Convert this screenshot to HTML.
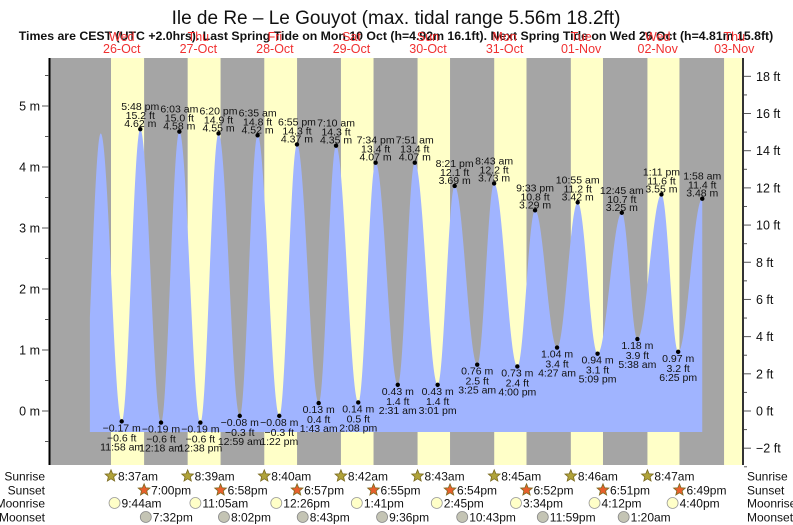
<!DOCTYPE html>
<html><head><meta charset="utf-8"><style>
body{margin:0;background:#fff}
svg{display:block;font-family:"Liberation Sans",sans-serif}
</style></head><body>
<svg id="c" width="793" height="525" viewBox="0 0 793 525">
<text x="396" y="24" text-anchor="middle" font-size="19" fill="#111">Ile de Re – Le Gouyot (max. tidal range 5.56m 18.2ft)</text>
<text x="396" y="29" dy="0" font-size="1" fill="none"></text>
<text x="396" y="40" text-anchor="middle" font-size="12.3" font-weight="bold" fill="#111">Times are CEST (UTC +2.0hrs). Last Spring Tide on Mon 10 Oct (h=4.92m 16.1ft). Next Spring Tide on Wed 26 Oct (h=4.81m 15.8ft)</text>
<g id="bg"></g><g id="tide"></g><g id="axes"></g><g id="labels"></g><g id="astro"></g>
</svg>
<script>
// hours since 26-Oct 00:00
const tideTimes=[-0.4,5.4,11.97,17.8,24.3,30.05,36.63,42.33,48.98,54.58,61.37,66.92,73.72,79.17,86.13,91.57,98.52,103.85,111.02,116.35,123.42,128.72,136,141.55,148.45,154.92,161.15,168.75,173.63,181.18,186.42,193.97];
const tideHeights=[-0.2,4.55,-0.17,4.62,-0.19,4.58,-0.19,4.55,-0.08,4.52,-0.08,4.37,0.13,4.35,0.14,4.07,0.43,4.07,0.43,3.69,0.76,3.73,0.73,3.29,1.04,3.42,0.94,3.25,1.18,3.55,0.97,3.48];
const tideLabelTime=["","","11:58 am","5:48 pm","12:18 am","6:03 am","12:38 pm","6:20 pm","12:59 am","6:35 am","1:22 pm","6:55 pm","1:43 am","7:10 am","2:08 pm","7:34 pm","2:31 am","7:51 am","3:01 pm","8:21 pm","3:25 am","8:43 am","4:00 pm","9:33 pm","4:27 am","10:55 am","5:09 pm","12:45 am","5:38 am","1:11 pm","6:25 pm","1:58 am"];
const tideLabelFt=["","","-0.6","15.2","-0.6","15.0","-0.6","14.9","-0.3","14.8","-0.3","14.3","0.4","14.3","0.5","13.4","1.4","13.4","1.4","12.1","2.5","12.2","2.4","10.8","3.4","11.2","3.1","10.7","3.9","11.6","3.2","11.4"];
const dayNames=["Wed","Thu","Fri","Sat","Sun","Mon","Tue","Wed","Thu"];
const dayDates=["26-Oct","27-Oct","28-Oct","29-Oct","30-Oct","31-Oct","01-Nov","02-Nov","03-Nov"];
const sunriseH=[8.62,8.65,8.67,8.70,8.72,8.75,8.77,8.78,8.80];
const sunsetH=[19.0,18.97,18.95,18.92,18.90,18.87,18.85,18.82];
const sunriseTxt=["8:37am","8:39am","8:40am","8:42am","8:43am","8:45am","8:46am","8:47am"];
const sunsetTxt=["7:00pm","6:58pm","6:57pm","6:55pm","6:54pm","6:52pm","6:51pm","6:49pm"];
const moonriseT=[9.73,35.08,60.43,85.68,110.75,135.57,160.2,184.67];
const moonriseTxt=["9:44am","11:05am","12:26pm","1:41pm","2:45pm","3:34pm","4:12pm","4:40pm"];
const moonsetT=[19.53,44.03,68.72,93.6,118.72,143.98,169.33];
const moonsetTxt=["7:32pm","8:02pm","8:43pm","9:36pm","10:43pm","11:59pm","1:20am"];
const mTicks=[0,1,2,3,4,5];
const ftTicks=[-2,0,2,4,6,8,10,12,14,16,18];

const NS="http://www.w3.org/2000/svg";
const X0=50,X1=743,Y0=58,Y1=465;
const x=t=>83.5+t*3.19;
const y=m=>411-m*61;
const yft=f=>y(f*0.3048);
function mk(tag,attrs,parent,txt){const e=document.createElementNS(NS,tag);for(const k in attrs)e.setAttribute(k,attrs[k]);if(txt!==undefined)e.textContent=txt;document.getElementById(parent).appendChild(e);return e;}

// background
let r=mk('rect',{x:X0,y:Y0,width:X1-X0,height:Y1-Y0,fill:'#a5a5a5'},'bg');

for(let d=0;d<9;d++){
  const a=x(d*24+sunriseH[d]);const b=Math.min(X1,x(d*24+(d<8?sunsetH[d]:19)));
  const e=mk('rect',{x:a,y:Y0,width:b-a,height:Y1-Y0,fill:'#ffffc8'},'bg');
  
  const l1=mk('text',{x:x(d*24+12),y:51,'text-anchor':'middle','font-size':12.5,fill:'#f03030'},'bg',dayNames[d]);
  const l2=mk('text',{x:x(d*24+12),y:38+0,'font-size':0},'bg','');
  const l3=mk('text',{x:x(d*24+12),y:52+0,'font-size':0},'bg','');
  l1.setAttribute('y',51);
  const dl=mk('text',{x:x(d*24+12),y:53,'text-anchor':'middle','font-size':12.5,fill:'#f03030'},'bg',dayDates[d]);
  l1.setAttribute('y',39);dl.setAttribute('y',52);
  l1.setAttribute('y',39);
  
}
// fix day label y positions (two lines)
document.querySelectorAll('#bg text').forEach(t=>{if(dayNames.includes(t.textContent))t.setAttribute('y',51-0);});
document.querySelectorAll('#bg text').forEach(t=>{if(dayNames.includes(t.textContent))t.setAttribute('y',40+0);if(dayDates.includes(t.textContent))t.setAttribute('y',53);});
document.querySelectorAll('#bg text').forEach(t=>{if(dayNames.includes(t.textContent))t.setAttribute('y',41);});

// tide curve
const tStart=2,tEnd=tideTimes[tideTimes.length-1];
let pts=[];
function h(t){for(let i=0;i<tideTimes.length-1;i++){if(t>=tideTimes[i]&&t<=tideTimes[i+1]){const f=(t-tideTimes[i])/(tideTimes[i+1]-tideTimes[i]);return tideHeights[i]+(tideHeights[i+1]-tideHeights[i])*(1-Math.cos(Math.PI*f))/2;}}return tideHeights[tideHeights.length-1];}
const yb=432;
let dstr=`M${x(tStart)},${yb}`;
for(let t=tStart;t<=tEnd;t+=0.1)dstr+=` L${x(t).toFixed(2)},${y(h(t)).toFixed(2)}`;
dstr+=` L${x(tEnd)},${y(h(tEnd))} L${x(tEnd)},${yb} Z`;
const tp=mk('path',{d:dstr,fill:'#a0b4ff'},'tide');


// extreme labels
for(let i=2;i<tideTimes.length;i++){
  const cx=x(tideTimes[i]),cy=y(tideHeights[i]);
  const dot=mk('circle',{cx:cx,cy:cy,r:2.2,fill:'#000'},'labels');
  
  const high=tideHeights[i]>tideHeights[i-1];
  const mtxt=tideHeights[i].toFixed(2).replace('-','−')+' m';
  const ftxt=tideLabelFt[i].replace('-','−')+' ft';
  const lines=high?[[tideLabelTime[i],-19],[ftxt,-10],[mtxt,-2]]:[[mtxt,10],[ftxt,20],[tideLabelTime[i],29]];
  lines.forEach(([s,dy])=>{const t=mk('text',{x:cx,y:cy+dy,'text-anchor':'middle','font-size':10.5,fill:'#111'},'labels',s);
    });
}

// axes
let a=mk('line',{x1:49.5,y1:Y0,x2:49.5,y2:Y1,stroke:'#000','stroke-width':2},'axes');

a=mk('line',{x1:743,y1:Y0,x2:743,y2:Y1,stroke:'#333','stroke-width':2},'axes');

for(let m=-0.5;m<=5.5;m+=0.5){const major=Number.isInteger(m);
  const l=mk('line',{x1:major?42:45,y1:y(m),x2:49,y2:y(m),stroke:'#555'},'axes');
  }
mTicks.forEach(m=>{const t=mk('text',{x:40,y:y(m)+4.5,'text-anchor':'end','font-size':12.5,fill:'#111'},'axes',m+' m');
  });
for(let f=-3;f<=18;f++){const major=f%2===0;
  const l=mk('line',{x1:744,y1:yft(f),x2:major?751:747,y2:yft(f),stroke:'#555'},'axes');
  }
ftTicks.forEach(f=>{const t=mk('text',{x:756,y:yft(f)+4.5,'font-size':12.5,fill:'#111'},'axes',(f<0?'−'+(-f):f)+' ft');
  });

// astro rows
const rows=[['Sunrise',476],['Sunset',490],['Moonrise',503],['Moonset',517]];
rows.forEach(([n,yy])=>{
  let t=mk('text',{x:45,y:yy+4.5,'text-anchor':'end','font-size':12,fill:'#111'},'astro',n);
  
  t=mk('text',{x:747,y:yy+4.5,'font-size':12,fill:'#111'},'astro',n);
  
});
function star(cx,cy,fill,name){let p='';for(let k=0;k<10;k++){const rr=k%2?2.8:6.2;const ang=-Math.PI/2+k*Math.PI/5;p+=(k?'L':'M')+(cx+rr*Math.cos(ang)).toFixed(2)+','+(cy+rr*Math.sin(ang)).toFixed(2);}
  const s=mk('path',{d:p+'Z',fill:fill,stroke:'#7a6a20','stroke-width':0.8},'astro');}
function lab(px,py,s,name){const t=mk('text',{x:px+7,y:py+4.5,'font-size':12,fill:'#111'},'astro',s);}
sunriseTxt.forEach((s,d)=>{const cx=x(d*24+sunriseH[d]);star(cx,476,'#b0a33a','sunrise-icon');lab(cx,476,s,'sunrise-time');});
sunsetTxt.forEach((s,d)=>{const cx=x(d*24+sunsetH[d]);star(cx,490,'#e8602c','sunset-icon');lab(cx,490,s,'sunset-time');});
moonriseTxt.forEach((s,i)=>{const cx=x(moonriseT[i]);const c=mk('circle',{cx:cx,cy:503,r:5.5,fill:'#ffffc8',stroke:'#999','stroke-width':0.8},'astro');
  lab(cx,503,s,'moonrise-time');});
moonsetTxt.forEach((s,i)=>{const cx=x(moonsetT[i]);const c=mk('circle',{cx:cx,cy:517,r:5.5,fill:'#c4c4b4',stroke:'#888','stroke-width':0.8},'astro');
  lab(cx,517,s,'moonset-time');});
</script>
</body></html>
